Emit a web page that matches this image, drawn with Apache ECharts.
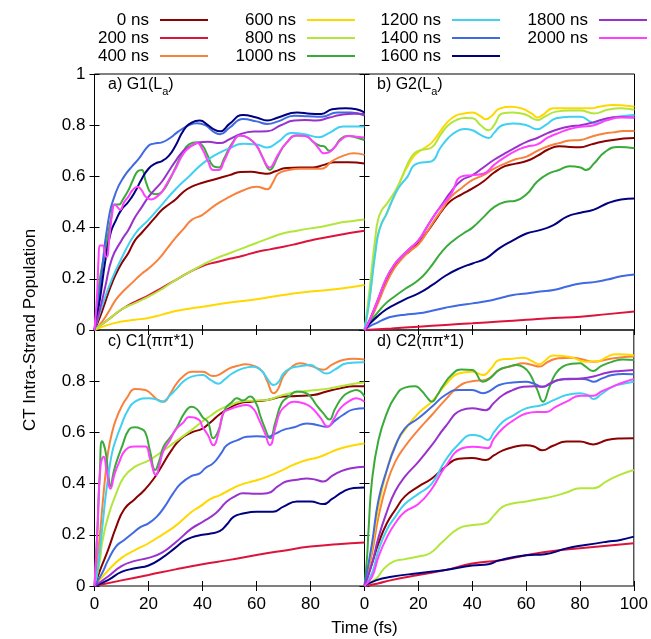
<!DOCTYPE html>
<html>
<head>
<meta charset="utf-8">
<script src="https://cdn.jsdelivr.net/npm/echarts@6/dist/echarts.min.js"></script>
<style>
  html, body { margin: 0; padding: 0; background: #fff; }
  #main { width: 651px; height: 639px; }
</style>
</head>
<body>
<div id="main"></div>
<script>
// trajectory snapshots (legend order)
var runs = ['0 ns', '200 ns', '400 ns', '600 ns', '800 ns', '1000 ns',
            '1200 ns', '1400 ns', '1600 ns', '1800 ns', '2000 ns'];
var colors = ['#8b0000', '#dc143c', '#f8823c', '#ffd800', '#b2e63a', '#3aab3a',
              '#40d0f0', '#4169e1', '#000080', '#9932cc', '#ff40ff'];
var panelTitles = ['{n|a) G1(L}{s|a}{n|)}', '{n|b) G2(L}{s|a}{n|)}',
                   '{n|c) C1(ππ*1)}', '{n|d) C2(ππ*1)}'];
var timeTicks = [0, 20, 40, 60, 80, 100];
var popTicks = [0, 0.2, 0.4, 0.6, 0.8, 1];

// a) G1(La)  -- [time fs, population]
var g1La = [
  [[0,0],[2,0.05],[4,0.11],[6,0.17],[8,0.22],[10,0.26],[12.5,0.3],[15,0.35],[17.5,0.38],[20,0.41],[22.5,0.44],[25,0.47],[27.5,0.49],[30,0.51],[33,0.54],[36,0.56],[40,0.575],[45,0.59],[50,0.605],[54,0.617],[58,0.618],[62,0.612],[64,0.61],[67,0.62],[71,0.633],[76,0.635],[81,0.635],[85,0.645],[89,0.655],[94,0.655],[100,0.65]],
  [[0,0],[5,0.04],[10,0.08],[15,0.11],[20,0.135],[25,0.165],[30,0.195],[35,0.225],[40,0.25],[45,0.265],[50,0.278],[55,0.29],[60,0.305],[65,0.315],[70,0.325],[75,0.337],[80,0.35],[85,0.36],[90,0.37],[95,0.38],[100,0.388]],
  [[0,0],[3,0.035],[6,0.085],[8,0.12],[11,0.155],[14,0.185],[17.5,0.22],[20,0.24],[24,0.28],[27,0.32],[30,0.36],[33,0.395],[36,0.43],[40,0.45],[45,0.49],[50,0.52],[55,0.545],[60,0.56],[64,0.55],[66,0.575],[68,0.61],[72,0.625],[76,0.63],[80,0.63],[84,0.63],[88,0.66],[92,0.68],[96,0.69],[100,0.684]],
  [[0,0],[5,0.02],[10,0.033],[15,0.04],[20,0.047],[25,0.06],[30,0.074],[35,0.083],[40,0.091],[50,0.107],[60,0.12],[70,0.137],[80,0.15],[90,0.16],[100,0.176]],
  [[0,0],[5,0.04],[10,0.08],[15,0.105],[20,0.13],[25,0.16],[30,0.195],[35,0.225],[40,0.254],[45,0.28],[50,0.3],[55,0.32],[60,0.34],[65,0.36],[70,0.378],[75,0.388],[80,0.397],[85,0.405],[90,0.417],[95,0.425],[100,0.432]],
  [[0,0],[1,0.1],[2,0.2],[3,0.26],[4,0.31],[5,0.37],[6,0.43],[7.5,0.49],[9,0.49],[10.5,0.51],[12.5,0.545],[14,0.58],[16,0.62],[17.5,0.625],[19,0.58],[21,0.535],[23,0.53],[25,0.54],[27.5,0.58],[30,0.635],[32.5,0.69],[35,0.725],[38,0.733],[40,0.72],[42,0.68],[44,0.64],[46,0.635],[48,0.67],[51,0.73],[54,0.76],[57,0.75],[60,0.72],[62,0.68],[64,0.635],[65,0.625],[66,0.635],[68,0.68],[71,0.73],[75,0.76],[78,0.76],[81,0.735],[83.5,0.72],[85,0.718],[87,0.7],[89,0.715],[91,0.745],[94,0.758],[97,0.752],[100,0.742]],
  [[0,0],[3,0.1],[6.5,0.2],[10,0.28],[15,0.375],[20,0.43],[25,0.49],[30,0.55],[35,0.6],[40,0.65],[45,0.685],[50,0.71],[55,0.728],[60,0.725],[64,0.713],[68,0.735],[73,0.77],[78,0.765],[83,0.753],[87,0.77],[92,0.795],[100,0.795]],
  [[0,0],[2,0.16],[5,0.42],[8,0.54],[11,0.6],[14,0.64],[16.5,0.67],[20,0.72],[22,0.728],[25,0.733],[28,0.75],[31,0.775],[35,0.8],[38,0.808],[41,0.8],[44,0.775],[46.5,0.765],[50,0.79],[55,0.824],[60,0.815],[64,0.805],[68,0.815],[74,0.837],[79,0.835],[84,0.833],[90,0.85],[95,0.85],[100,0.837]],
  [[0,0],[2,0.12],[4,0.27],[6,0.38],[8,0.43],[10,0.47],[12.5,0.5],[15,0.54],[17.5,0.59],[20,0.63],[22.5,0.65],[25,0.66],[27.5,0.68],[30,0.72],[33,0.78],[36,0.81],[39,0.818],[42,0.8],[44,0.785],[46.5,0.776],[50,0.805],[55,0.84],[60,0.83],[64,0.818],[68,0.83],[75,0.85],[80,0.845],[84,0.844],[88,0.862],[93,0.866],[97,0.862],[100,0.85]],
  [[0,0],[2,0.08],[4,0.17],[6.5,0.28],[10,0.35],[12.5,0.39],[15,0.44],[17.5,0.48],[20,0.52],[22.5,0.55],[25,0.58],[27.5,0.62],[30,0.66],[33,0.7],[36,0.72],[39,0.733],[42,0.735],[46.5,0.73],[50,0.745],[54,0.765],[59,0.775],[64,0.776],[69,0.8],[74,0.818],[78,0.82],[82,0.818],[87,0.83],[91,0.84],[96,0.845],[100,0.844]],
  [[0,0],[1,0.15],[1.5,0.28],[2,0.33],[3,0.33],[4,0.29],[4.5,0.285],[5.5,0.36],[6.5,0.45],[7.5,0.49],[8.5,0.48],[9.5,0.47],[11,0.5],[12.5,0.52],[14,0.545],[16,0.56],[17.5,0.545],[19,0.52],[21,0.51],[23,0.52],[25,0.54],[27.5,0.585],[30,0.63],[33,0.69],[36,0.72],[38,0.73],[40,0.705],[42,0.66],[44,0.625],[46,0.625],[48,0.66],[51,0.725],[54,0.76],[57,0.75],[60,0.72],[62,0.68],[64,0.64],[65,0.635],[66,0.645],[68,0.685],[71,0.73],[75,0.76],[78,0.758],[81,0.735],[83,0.71],[85,0.69],[87,0.695],[89,0.715],[91,0.74],[94,0.758],[97,0.755],[100,0.752]]
];

// b) G2(La)
var g2La = [
  [[0,0],[2,0.04],[5,0.115],[8,0.19],[11,0.245],[14,0.285],[17,0.31],[20,0.34],[23,0.38],[26,0.425],[29,0.47],[32,0.505],[36,0.53],[40,0.553],[44,0.58],[48,0.615],[52,0.64],[56,0.65],[60,0.66],[64,0.68],[68,0.705],[72,0.718],[76,0.715],[80,0.714],[84,0.725],[88,0.735],[92,0.742],[96,0.748],[100,0.75]],
  [[0,0],[10,0.006],[20,0.013],[30,0.02],[40,0.026],[50,0.033],[60,0.04],[70,0.047],[80,0.052],[90,0.062],[100,0.072]],
  [[0,0],[2,0.035],[5,0.105],[8,0.18],[11,0.24],[14,0.28],[17,0.31],[20,0.335],[23,0.38],[26,0.43],[29,0.475],[32,0.52],[36,0.555],[40,0.586],[44,0.605],[48,0.63],[52,0.65],[56,0.667],[60,0.677],[64,0.7],[68,0.718],[72,0.73],[76,0.74],[80,0.742],[84,0.755],[88,0.766],[92,0.772],[96,0.777],[100,0.777]],
  [[0,0],[1,0.06],[2,0.13],[3,0.22],[4,0.31],[5,0.375],[6.5,0.42],[8,0.45],[10,0.5],[12,0.545],[14,0.6],[16,0.64],[18,0.675],[20,0.695],[22,0.71],[25,0.733],[28,0.775],[31,0.815],[34,0.838],[37,0.846],[40,0.85],[43,0.835],[45,0.823],[47,0.835],[50,0.865],[54,0.872],[58,0.866],[62,0.845],[64,0.83],[66,0.84],[70,0.866],[75,0.866],[80,0.866],[84,0.866],[87,0.872],[92,0.879],[96,0.877],[100,0.872]],
  [[0,0],[1,0.08],[2,0.17],[3,0.27],[4,0.36],[5,0.43],[6.5,0.47],[8,0.49],[10,0.52],[12,0.555],[14,0.6],[16,0.65],[18,0.685],[20,0.7],[22,0.705],[25,0.714],[28,0.76],[31,0.8],[34,0.82],[37,0.828],[40,0.827],[43,0.8],[46,0.78],[48,0.8],[51,0.846],[55,0.85],[60,0.84],[64,0.82],[67,0.835],[71,0.853],[76,0.857],[80,0.857],[85,0.846],[90,0.86],[95,0.866],[100,0.86]],
  [[0,0],[2,0.03],[5,0.07],[8,0.105],[11,0.13],[15,0.16],[20,0.195],[24,0.24],[29,0.31],[33,0.35],[37,0.38],[40,0.4],[44,0.44],[48,0.48],[52,0.5],[56,0.505],[60,0.53],[64,0.58],[68,0.61],[72,0.625],[76,0.64],[80,0.635],[82,0.625],[85,0.65],[89,0.695],[94,0.715],[100,0.71]],
  [[0,0],[1,0.06],[2,0.13],[3,0.22],[4,0.3],[5,0.37],[6.5,0.42],[8,0.45],[10,0.5],[12,0.545],[14,0.575],[16,0.6],[18,0.64],[20,0.652],[22,0.655],[25,0.66],[28,0.71],[31,0.75],[34,0.775],[37,0.785],[40,0.78],[43,0.762],[46,0.75],[48,0.77],[51,0.8],[55,0.807],[60,0.8],[64,0.784],[67,0.8],[71,0.827],[76,0.833],[80,0.833],[84,0.812],[86,0.807],[90,0.825],[95,0.835],[100,0.84]],
  [[0,0],[2,0.015],[5,0.03],[8,0.045],[10,0.052],[15,0.06],[20,0.065],[25,0.075],[30,0.087],[35,0.097],[40,0.104],[45,0.112],[50,0.124],[55,0.137],[60,0.143],[65,0.15],[70,0.156],[75,0.17],[80,0.182],[85,0.187],[90,0.197],[95,0.21],[100,0.217]],
  [[0,0],[2,0.025],[5,0.055],[8,0.08],[11,0.098],[15,0.12],[20,0.143],[25,0.175],[30,0.212],[35,0.24],[40,0.26],[45,0.28],[50,0.32],[55,0.35],[60,0.377],[65,0.39],[70,0.41],[75,0.443],[80,0.458],[85,0.47],[90,0.495],[95,0.51],[100,0.514]],
  [[0,0],[2,0.04],[5,0.12],[8,0.2],[11,0.255],[14,0.29],[17,0.32],[20,0.35],[23,0.4],[26,0.45],[29,0.495],[32,0.54],[36,0.585],[40,0.605],[44,0.635],[48,0.665],[52,0.69],[56,0.713],[60,0.735],[64,0.75],[68,0.77],[72,0.785],[76,0.795],[80,0.8],[85,0.812],[90,0.827],[95,0.832],[100,0.83]],
  [[0,0],[2,0.04],[5,0.12],[8,0.2],[11,0.255],[14,0.29],[17,0.32],[20,0.35],[23,0.4],[26,0.45],[29,0.49],[32,0.53],[36,0.6],[40,0.605],[44,0.61],[48,0.645],[52,0.675],[56,0.7],[60,0.716],[64,0.725],[68,0.752],[72,0.77],[76,0.785],[80,0.794],[85,0.8],[90,0.82],[95,0.83],[100,0.83]]
];

// c) C1(pi pi*1)
var c1pp = [
  [[0,0],[2,0.06],[5,0.14],[8,0.23],[11,0.3],[15,0.34],[18.5,0.375],[22,0.42],[25,0.47],[28.5,0.53],[32,0.575],[36,0.6],[40,0.615],[43,0.64],[46.5,0.672],[50,0.695],[54,0.715],[58,0.72],[64,0.727],[70,0.74],[75,0.742],[81,0.746],[86,0.76],[91,0.772],[96,0.78],[100,0.78]],
  [[0,0],[10,0.022],[20,0.043],[30,0.065],[40,0.085],[50,0.102],[60,0.121],[70,0.138],[80,0.154],[90,0.163],[100,0.17]],
  [[0,0],[1,0.1],[2,0.2],[3,0.32],[4,0.43],[5,0.52],[6.5,0.6],[8.3,0.66],[10,0.7],[12,0.735],[15,0.77],[18.8,0.766],[21,0.75],[23,0.73],[25.6,0.72],[28,0.75],[30,0.785],[33,0.82],[36,0.837],[40,0.837],[44,0.82],[46,0.825],[50,0.85],[53,0.86],[56,0.866],[59,0.86],[62,0.84],[64,0.8],[66.3,0.753],[68,0.77],[70,0.82],[73,0.855],[76,0.87],[80,0.86],[84.8,0.845],[88,0.865],[92,0.883],[96,0.888],[100,0.885]],
  [[0,0],[5,0.06],[10,0.11],[15,0.14],[20,0.167],[25,0.2],[30,0.235],[36,0.29],[39,0.31],[43,0.34],[46.5,0.355],[50,0.375],[54,0.395],[59,0.41],[64,0.427],[69,0.45],[73.6,0.473],[78,0.49],[83.5,0.505],[88,0.525],[92,0.54],[96,0.55],[100,0.557]],
  [[0,0],[2,0.1],[2.8,0.167],[5,0.27],[8,0.36],[11,0.427],[15,0.466],[20,0.49],[25,0.525],[30,0.564],[36,0.61],[39,0.635],[43,0.665],[46.5,0.69],[50,0.705],[54,0.72],[60,0.725],[64,0.727],[68,0.74],[72.5,0.753],[77,0.76],[82.5,0.766],[87,0.772],[91,0.78],[96,0.79],[100,0.795]],
  [[0,0],[1,0.2],[2,0.45],[2.8,0.565],[4,0.53],[5,0.45],[5.9,0.39],[7,0.44],[8,0.48],[10.2,0.545],[12.7,0.61],[15,0.62],[17,0.615],[18.8,0.6],[20.5,0.53],[22.5,0.453],[24,0.49],[25.6,0.545],[28,0.58],[30,0.61],[33.6,0.68],[36,0.7],[38,0.69],[40,0.66],[42,0.64],[44,0.577],[46,0.61],[48.3,0.69],[51,0.72],[52.7,0.733],[55,0.725],[57.6,0.74],[60,0.71],[61.3,0.668],[63,0.62],[65,0.577],[67,0.64],[69.3,0.714],[72,0.74],[75,0.76],[78,0.755],[80,0.74],[82,0.71],[84.7,0.675],[87,0.65],[89,0.69],[92,0.74],[95,0.76],[97,0.766],[100,0.74]],
  [[0,0],[1,0.05],[2,0.14],[3,0.24],[4,0.34],[5,0.42],[6.5,0.52],[8.3,0.583],[10,0.63],[12,0.68],[15,0.72],[20,0.733],[22.5,0.73],[25,0.72],[28,0.745],[30,0.766],[33,0.8],[36,0.818],[40,0.824],[43,0.805],[46,0.79],[48,0.805],[51,0.83],[55,0.85],[59,0.856],[62,0.84],[64,0.81],[66.3,0.785],[68,0.795],[70,0.83],[72.5,0.85],[76,0.858],[80,0.863],[83,0.845],[86,0.83],[89,0.845],[93.5,0.87],[100,0.874]],
  [[0,0],[2.8,0.05],[5,0.1],[8,0.155],[11,0.18],[14,0.205],[17,0.23],[20,0.245],[23,0.27],[26,0.31],[29,0.36],[32,0.4],[36,0.43],[39,0.44],[41,0.46],[44,0.48],[47,0.52],[49,0.55],[53,0.57],[56.4,0.583],[60,0.585],[64,0.583],[67,0.595],[70,0.61],[74,0.62],[78.6,0.635],[82,0.63],[86,0.622],[89,0.645],[92,0.668],[96,0.69],[100,0.694]],
  [[0,0],[5,0.023],[10,0.055],[15,0.069],[20,0.08],[25,0.11],[30,0.15],[33,0.175],[36,0.19],[40,0.2],[43,0.205],[46.5,0.215],[49,0.24],[51.5,0.27],[55,0.283],[60,0.29],[66,0.29],[70,0.31],[75,0.33],[80,0.33],[84.8,0.32],[88,0.34],[92,0.368],[96,0.383],[100,0.385]],
  [[0,0],[5,0.037],[10,0.078],[15,0.098],[20,0.11],[25,0.13],[30,0.17],[36,0.225],[40,0.25],[45,0.285],[49,0.33],[52,0.35],[55,0.362],[60,0.36],[64,0.362],[68,0.39],[71,0.408],[75,0.415],[78.6,0.42],[82,0.415],[84.7,0.408],[88,0.43],[91,0.447],[95,0.46],[100,0.466]],
  [[0,0],[1,0.2],[2.2,0.466],[3.4,0.505],[4.5,0.45],[5.9,0.38],[7.5,0.44],[9,0.48],[11.4,0.53],[15,0.545],[18.8,0.545],[20.5,0.5],[22.8,0.434],[24,0.47],[25.6,0.53],[28,0.57],[30,0.61],[33,0.64],[35,0.66],[38.6,0.65],[40,0.622],[42,0.59],[44,0.55],[46,0.6],[47.7,0.675],[50,0.69],[52.7,0.7],[56.4,0.707],[59,0.69],[60.7,0.655],[63,0.6],[65,0.55],[67,0.62],[68.8,0.68],[71,0.705],[73.7,0.72],[77,0.715],[80,0.7],[83.5,0.66],[86.5,0.622],[88.5,0.65],[91,0.694],[94,0.72],[97,0.733],[100,0.72]]
];

// d) C2(pi pi*1)
var c2pp = [
  [[0,0],[2.8,0.088],[5.2,0.167],[8.3,0.245],[11.4,0.297],[15,0.35],[20,0.388],[25,0.42],[30,0.466],[35,0.497],[40,0.5],[45,0.492],[48,0.51],[51.4,0.53],[55,0.542],[60,0.55],[63,0.545],[66,0.53],[70,0.548],[75,0.564],[80,0.564],[85,0.553],[90,0.57],[95,0.576],[100,0.577]],
  [[0,0],[5,0.01],[10,0.023],[20,0.043],[30,0.062],[40,0.088],[50,0.1],[60,0.12],[70,0.137],[80,0.147],[90,0.157],[100,0.167]],
  [[0,0],[2.8,0.128],[5.2,0.27],[8.3,0.4],[11.4,0.485],[15,0.545],[20,0.61],[25,0.668],[30,0.727],[35,0.78],[40,0.8],[45,0.805],[50,0.844],[55,0.86],[59,0.87],[62,0.864],[65,0.857],[68,0.875],[72,0.89],[77,0.892],[81,0.885],[85,0.876],[90,0.885],[95,0.893],[100,0.896]],
  [[0,0],[2.8,0.154],[5.2,0.31],[8.3,0.453],[11.4,0.55],[15,0.61],[20,0.675],[25,0.72],[30,0.785],[35,0.83],[40,0.837],[44,0.824],[47,0.85],[50,0.883],[55,0.888],[59,0.892],[62,0.88],[65,0.866],[67,0.88],[70,0.9],[74,0.898],[77.3,0.892],[82,0.876],[87,0.879],[90,0.895],[93.4,0.905],[97,0.904],[100,0.9]],
  [[0,0],[4.5,0.03],[7,0.065],[10.7,0.095],[15,0.105],[20,0.115],[24.3,0.128],[29,0.173],[35,0.225],[40,0.238],[45,0.245],[48,0.275],[51.4,0.31],[55,0.322],[60,0.33],[65,0.34],[70,0.35],[75,0.365],[80,0.382],[85,0.382],[90,0.41],[95,0.435],[100,0.453]],
  [[0,0],[1,0.12],[1.5,0.22],[2.8,0.414],[5.2,0.57],[8.3,0.675],[11.4,0.74],[15,0.775],[18.8,0.78],[21,0.765],[23,0.74],[25,0.72],[27,0.745],[29,0.78],[32.4,0.825],[36,0.846],[40,0.844],[44,0.798],[47,0.815],[50,0.844],[53,0.855],[56.4,0.863],[59,0.855],[61.3,0.83],[64,0.77],[66.3,0.72],[68.7,0.778],[71,0.83],[73.6,0.857],[77,0.868],[80,0.87],[82,0.858],[84.8,0.84],[88,0.86],[92,0.876],[96,0.885],[100,0.883]],
  [[0,0],[2.8,0.05],[5.2,0.14],[8.3,0.22],[11.4,0.27],[15,0.32],[20,0.36],[25,0.4],[30,0.49],[35,0.555],[40,0.59],[43,0.585],[45.8,0.57],[48,0.6],[51.4,0.642],[55,0.665],[60,0.694],[66,0.707],[70,0.725],[75,0.746],[80,0.753],[83,0.745],[85,0.73],[88,0.75],[92,0.778],[96,0.79],[100,0.798]],
  [[0,0],[2.8,0.167],[5.2,0.336],[8.3,0.453],[11.4,0.545],[15,0.616],[20,0.655],[25,0.7],[30,0.746],[35,0.766],[40,0.766],[44,0.753],[47,0.765],[50,0.785],[55,0.795],[60,0.798],[63,0.79],[66,0.778],[69,0.79],[72,0.805],[76,0.81],[80,0.81],[83,0.805],[85,0.798],[88,0.81],[92,0.824],[96,0.828],[100,0.827]],
  [[0,0],[4.5,0.023],[10,0.036],[20,0.05],[30,0.0625],[40,0.08],[46,0.085],[50,0.1],[60,0.12],[67,0.124],[75,0.147],[82,0.16],[90,0.173],[95,0.18],[100,0.193]],
  [[0,0],[2.8,0.088],[5.2,0.19],[8.3,0.29],[11.4,0.37],[15,0.427],[20,0.485],[25,0.55],[30,0.622],[36,0.687],[40,0.694],[45,0.687],[48,0.715],[51.4,0.746],[55,0.765],[59,0.778],[63,0.78],[66,0.778],[69,0.792],[72,0.805],[76,0.808],[80,0.81],[85,0.818],[90,0.833],[95,0.84],[100,0.844]],
  [[0,0],[2.8,0.036],[5.2,0.115],[8.3,0.19],[11.4,0.245],[15,0.29],[20,0.32],[25,0.38],[30,0.466],[36,0.537],[40,0.544],[43,0.542],[45.8,0.538],[48,0.575],[51.4,0.616],[55,0.645],[60,0.674],[64,0.68],[67.5,0.68],[71,0.7],[75,0.72],[80,0.743],[85,0.743],[88,0.76],[92,0.778],[96,0.795],[100,0.808]]
];

var panels = [g1La, g2La, c1pp, c2pp];
var font = "'Liberation Sans', Arial, sans-serif";
var gridPos = [[94.5, 74], [364.5, 74], [94.5, 330], [364.5, 330]];
var titlePos = [[108, 73], [377, 73], [108, 330], [377, 330]];
var legendCols = [[0, 1, 2], [3, 4, 5], [6, 7, 8], [9, 10]];
var legendIconX = [160, 307, 452, 599];

var chart = echarts.init(document.getElementById('main'));

var grids = [], xAxes = [], yAxes = [], series = [], titles = [], legends = [];
var tick = { inside: true, length: 5, lineStyle: { color: '#000', width: 1 } };

gridPos.forEach(function (pos, p) {
  grids.push({ left: pos[0], top: pos[1], width: 270, height: 256, show: true,
               borderColor: '#000', borderWidth: 1, backgroundColor: 'transparent' });
  var bottomRow = p >= 2, leftCol = p % 2 === 0;
  xAxes.push({
    gridIndex: p, type: 'value', min: 0, max: 100, interval: 20, position: 'bottom',
    axisLine: { show: false }, axisTick: tick, splitLine: { show: false },
    axisLabel: { show: bottomRow, color: '#000', fontSize: 17, fontFamily: font, margin: 10,
                 showMaxLabel: p === 3,
                 formatter: function (v) { return timeTicks.indexOf(v) >= 0 ? String(v) : ''; } }
  });
  xAxes.push({
    gridIndex: p, type: 'value', min: 0, max: 100, interval: 20, position: 'top',
    axisLine: { show: false }, axisTick: tick, splitLine: { show: false }, axisLabel: { show: false }
  });
  yAxes.push({
    gridIndex: p, type: 'value', min: 0, max: 1, interval: 0.2, position: 'left',
    axisLine: { show: false }, axisTick: tick, splitLine: { show: false },
    axisLabel: { show: leftCol, color: '#000', fontSize: 17, fontFamily: font, margin: 9,
                 showMaxLabel: p === 0,
                 formatter: function (v) {
                   var r = +v.toFixed(1);
                   return popTicks.indexOf(r) >= 0 ? String(r) : '';
                 } }
  });
  yAxes.push({
    gridIndex: p, type: 'value', min: 0, max: 1, interval: 0.2, position: 'right',
    axisLine: { show: false }, axisTick: tick, splitLine: { show: false }, axisLabel: { show: false }
  });
  titles.push({
    text: panelTitles[p], left: titlePos[p][0], top: titlePos[p][1], padding: 0,
    textStyle: { fontWeight: 'normal', rich: {
      n: { fontSize: 16, fontFamily: font, fontWeight: 'normal', color: '#000', lineHeight: 24 },
      s: { fontSize: 11, fontFamily: font, fontWeight: 'normal', color: '#000', lineHeight: 11, verticalAlign: 'bottom' }
    } }
  });
  panels[p].forEach(function (d, k) {
    series.push({
      type: 'line', name: runs[k], xAxisIndex: 2 * p, yAxisIndex: 2 * p,
      data: d, smooth: 0.5, symbol: 'none',
      color: colors[k], lineStyle: { width: 2, color: colors[k] }
    });
  });
});

legendCols.forEach(function (col, c) {
  legends.push({
    data: col.map(function (i) { return runs[i]; }),
    orient: 'vertical', align: 'right', left: legendIconX[c] - 75, top: 11.5,
    padding: 0, itemGap: 1, icon: 'rect', itemWidth: 48, itemHeight: 2,
    selectedMode: false,
    formatter: function (name) { return '{t|' + name + '}{g|}'; },
    textStyle: { rich: {
      t: { width: 64, align: 'right', fontSize: 17, fontFamily: font, color: '#000', lineHeight: 18 },
      g: { width: 6, lineHeight: 18 }
    } }
  });
});

var option = {
  backgroundColor: '#fff',
  animation: false,
  title: titles,
  legend: legends,
  grid: grids,
  xAxis: xAxes,
  yAxis: yAxes,
  series: series,
  graphic: [
    { type: 'text', x: 30, y: 330, rotation: Math.PI / 2,
      style: { text: 'CT Intra-Strand Population', fontSize: 17, fontFamily: font, fill: '#000',
               align: 'center', verticalAlign: 'middle' } },
    { type: 'text', x: 364.5, y: 628,
      style: { text: 'Time (fs)', fontSize: 17, fontFamily: font, fill: '#000',
               align: 'center', verticalAlign: 'middle' } }
  ]
};
chart.setOption(option);
</script>
</body>
</html>
